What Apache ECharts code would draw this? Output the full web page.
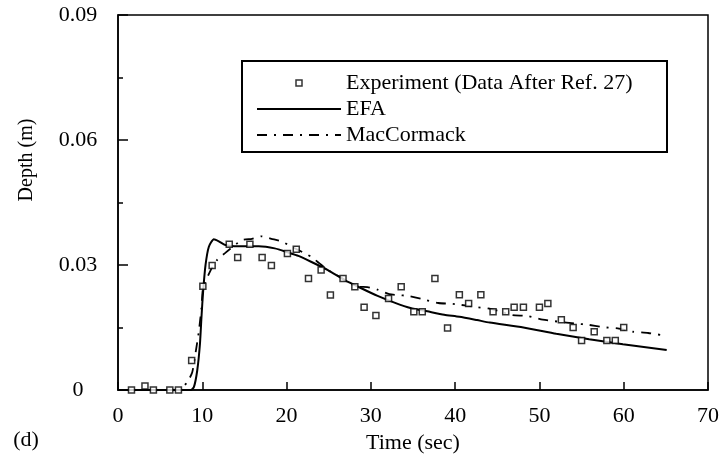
<!DOCTYPE html>
<html>
<head>
<meta charset="utf-8">
<script src="https://cdn.jsdelivr.net/npm/echarts@6/dist/echarts.min.js"></script>
<style>html,body{margin:0;padding:0;background:#fff}#c{width:722px;height:459px}</style>
</head>
<body>
<div id="c"></div>
<script>
var xTicks = [0, 10, 20, 30, 40, 50, 60, 70];
var yTicks = [0, 0.03, 0.06, 0.09];

var expT = [1.6,3.2,4.2,6.15,7.17,8.74,10.07,11.17,13.2,14.2,15.65,17.1,18.2,20.1,21.15,22.6,24.1,25.2,26.7,28.1,29.2,30.6,32.1,33.6,35.1,36.1,37.6,39.1,40.5,41.6,43.05,44.5,46.0,47.0,48.1,50.0,51.0,52.6,54.0,55.0,56.5,58.0,59.0,60.0];
var expD = [0,0.001,0,0,0,0.0071,0.0249,0.0299,0.035,0.0318,0.035,0.0318,0.0299,0.0328,0.0338,0.0268,0.0288,0.0228,0.0268,0.0248,0.0199,0.0179,0.022,0.0248,0.0188,0.0188,0.0268,0.0149,0.0229,0.0208,0.0229,0.0188,0.0188,0.0199,0.0199,0.0199,0.0208,0.0169,0.015,0.0119,0.014,0.0119,0.0119,0.015];

var efaT = [0,8.6,9.0,9.4,9.72,9.9,10.1,10.39,10.78,11.37,11.96,12.74,14.3,16.7,18.6,20.2,21.4,22.9,24.9,26.9,28.8,30.8,32.8,34.7,36.7,38.7,40.5,42.6,44.1,48.1,52.0,55.9,59.9,65.1];
var efaD = [0,0,0.0007,0.0047,0.011,0.0174,0.0237,0.0301,0.0344,0.0362,0.0357,0.0348,0.0345,0.0345,0.034,0.033,0.0322,0.0308,0.0288,0.0264,0.0245,0.0226,0.021,0.0197,0.0189,0.0181,0.0176,0.0168,0.0162,0.015,0.0135,0.0122,0.011,0.0096];

var macT = [0,7.25,8.2,8.8,9.3,9.6,9.9,10.1,11.0,11.75,12.66,14.7,15.9,17.05,18.2,19.4,20.5,21.4,22.9,23.9,24.9,26.3,28.2,29.6,30.8,32.2,33.2,34.4,36.0,38.0,39.7,42.6,43.9,45.1,46.8,48.5,50.4,53.2,54.5,55.7,57.5,59.3,61.1,62.9,65.1];
var macD = [0,0,0.0019,0.0042,0.0102,0.0142,0.0197,0.0245,0.0288,0.0312,0.0328,0.036,0.0363,0.0369,0.0363,0.0357,0.0345,0.0336,0.032,0.0304,0.0288,0.0272,0.0249,0.0247,0.0241,0.023,0.0228,0.0226,0.0219,0.0209,0.0207,0.0199,0.0196,0.019,0.018,0.0178,0.0169,0.0162,0.0159,0.0157,0.0151,0.0148,0.014,0.0137,0.013];

var seriesNames = ['Experiment (Data After Ref. 27)', 'EFA', 'MacCormack'];

function pairs(a, b) { return a.map(function (v, i) { return [v, b[i]]; }); }

var FONT = 'Liberation Serif';
var FS = 22;
var chart = echarts.init(document.getElementById('c'), null, { renderer: 'canvas' });
chart.setOption({
  animation: false,
  backgroundColor: '#fff',
  textStyle: { fontFamily: FONT, color: '#000' },
  grid: { left: 118, top: 15, width: 595, height: 378, show: true, borderColor: '#000', borderWidth: 1.5, backgroundColor: 'transparent' },
  xAxis: {
    type: 'value', min: xTicks[0], max: xTicks[xTicks.length - 1], interval: 10,
    name: 'Time (sec)', nameLocation: 'middle', nameGap: 34,
    nameTextStyle: { fontFamily: FONT, fontSize: FS, color: '#000' },
    axisLine: { lineStyle: { color: '#000', width: 1.5 } },
    axisTick: { inside: true, length: 8, lineStyle: { color: '#000', width: 1.5 } },
    axisLabel: { margin: 15, fontFamily: FONT, fontSize: FS, color: '#000' },
    splitLine: { show: false }
  },
  yAxis: {
    type: 'value', min: yTicks[0], max: yTicks[yTicks.length - 1], interval: 0.03,
    axisLine: { show: true, lineStyle: { color: '#000', width: 1.5 } },
    axisTick: { show: true, inside: true, length: 10, lineStyle: { color: '#000', width: 1.5 } },
    minorTick: { show: true, splitNumber: 2, length: 5, lineStyle: { color: '#000', width: 1.5 } },
    axisLabel: { margin: 40, align: 'center', padding: [0, 0, 5, 0], fontFamily: FONT, fontSize: FS, color: '#000',
      formatter: function (v) { return v === 0 ? '0' : v.toFixed(2); } },
    splitLine: { show: false }
  },
  legend: {
    orient: 'vertical', left: 256, top: 72, padding: 0, itemGap: 4,
    itemWidth: 84, itemHeight: 14,
    data: [
      { name: seriesNames[0], icon: 'path://M0,0 M84,14 M39,4 L45,4 L45,10 L39,10 Z',
        itemStyle: { color: '#fff', borderColor: '#000', borderWidth: 1.5 } },
      { name: seriesNames[1], itemStyle: { color: 'transparent', borderWidth: 0, opacity: 0 } },
      { name: seriesNames[2], itemStyle: { color: 'transparent', borderWidth: 0, opacity: 0 } }
    ],
    textStyle: { fontFamily: FONT, fontSize: FS, color: '#000', lineHeight: 22 }
  },
  graphic: [
    { type: 'rect', shape: { x: 242, y: 61, width: 425, height: 91 }, style: { fill: 'none', stroke: '#000', lineWidth: 2 }, z: 10 },
    { type: 'text', x: 27, y: 160, rotation: Math.PI / 2, style: { text: 'Depth (m)', font: '20px "Liberation Serif"', fill: '#000', textAlign: 'center', textVerticalAlign: 'middle' } },
    { type: 'text', x: 26, y: 440, style: { text: '(d)', font: '22px "Liberation Serif"', fill: '#000', textAlign: 'center', textVerticalAlign: 'middle' } }
  ],
  series: [
    { name: seriesNames[0], type: 'scatter', data: pairs(expT, expD), symbol: 'rect', symbolSize: 6,
      itemStyle: { color: '#fff', borderColor: '#000', borderWidth: 1.5 }, z: 5 },
    { name: seriesNames[1], type: 'line', data: pairs(efaT, efaD), showSymbol: false, symbol: 'none', smooth: 0.2,
      lineStyle: { color: '#000', width: 2 }, itemStyle: { color: '#000' } },
    { name: seriesNames[2], type: 'line', data: pairs(macT, macD), showSymbol: false, symbol: 'none', smooth: 0.2,
      lineStyle: { color: '#000', width: 1.8, type: [10, 7, 2, 7] }, itemStyle: { color: '#000' } }
  ]
});
</script>
</body>
</html>
